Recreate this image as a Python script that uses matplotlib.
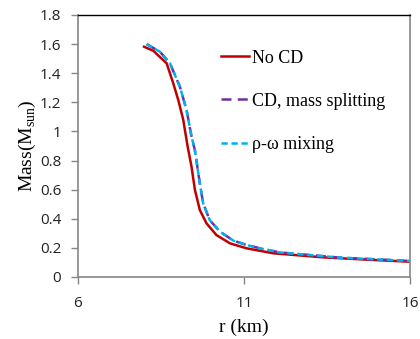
import matplotlib
matplotlib.use("Agg")
import matplotlib.pyplot as plt

# Data
r_nocd = [7.99, 8.27, 8.52, 8.67, 8.87, 9.02, 9.17, 9.22, 9.30, 9.42, 9.52, 9.67, 9.87, 10.17, 10.58, 11.08, 11.88, 13.39, 14.89, 16.0]
m_nocd = [1.582, 1.554, 1.50, 1.468, 1.33, 1.216, 1.08, 1.01, 0.90, 0.757, 0.60, 0.46, 0.369, 0.288, 0.231, 0.197, 0.163, 0.135, 0.117, 0.105]

r_cd = [8.07, 8.47, 8.77, 9.07, 9.27, 9.42, 9.52, 9.67, 9.77, 9.97, 10.28, 10.68, 11.08, 11.48, 12.08, 13.89, 15.4, 16.0]
m_cd = [1.60, 1.547, 1.468, 1.307, 1.147, 0.964, 0.872, 0.643, 0.506, 0.39, 0.311, 0.25, 0.22, 0.197, 0.169, 0.133, 0.117, 0.11]

r_mix = r_cd
m_mix = m_cd

labels = ["No CD", "CD, mass splitting", "\u03c1-\u03c9 mixing"]
xticks = [6, 11, 16]
yticks = [0, 0.2, 0.4, 0.6, 0.8, 1, 1.2, 1.4, 1.6, 1.8]
ytick_labels = ["0", "0.2", "0.4", "0.6", "0.8", "1", "1.2", "1.4", "1.6", "1.8"]

plt.rcParams['mathtext.fontset'] = 'custom'
plt.rcParams['mathtext.rm'] = 'Liberation Serif'

fig = plt.figure(figsize=(4.2, 3.39), dpi=100)
ax = fig.add_axes([78/420, 62/339, 332/420, 262/339])

ax.plot(r_nocd, m_nocd, color='#C00000', lw=1.8, label=labels[0])
ax.plot(r_cd, m_cd, color='#7030A0', lw=1.8, ls=(0, (4, 2.5)), label=labels[1])
ax.plot(r_mix, m_mix, color='#00B0F0', lw=1.8, ls=(0, (2.5, 1.5)), label=labels[2])

ax.set_xlim(6, 16)
ax.set_ylim(0, 1.8)
ax.set_xticks(xticks)
ax.set_yticks(yticks)
ax.set_yticklabels(ytick_labels)
for lab in ax.get_xticklabels() + ax.get_yticklabels():
    lab.set_fontfamily('Open Sans')
    lab.set_fontsize(11)
    lab.set_color('#222222')
ax.tick_params(axis='both', direction='out', length=5, width=1, color='#868686')
ax.tick_params(axis='y', pad=7)
ax.tick_params(axis='x', pad=9)

for s in ['left', 'bottom', 'right']:
    ax.spines[s].set_color('#868686')
    ax.spines[s].set_linewidth(1.2)
ax.spines['top'].set_color('black')
ax.spines['top'].set_linewidth(1.0)

ax.set_xlabel('r (km)', fontfamily='Liberation Serif', fontsize=14, labelpad=5)
ax.set_ylabel('Mass(M$_{\\rm sun}$)', fontfamily='Liberation Serif', fontsize=14, labelpad=1)

leg = ax.legend(loc='upper left', bbox_to_anchor=(0.383, 0.93), frameon=False,
                prop={'family': 'Liberation Serif', 'size': 13},
                handlelength=1.55, handletextpad=0.17, labelspacing=1.45)

fig.savefig('out.png', dpi=100)
